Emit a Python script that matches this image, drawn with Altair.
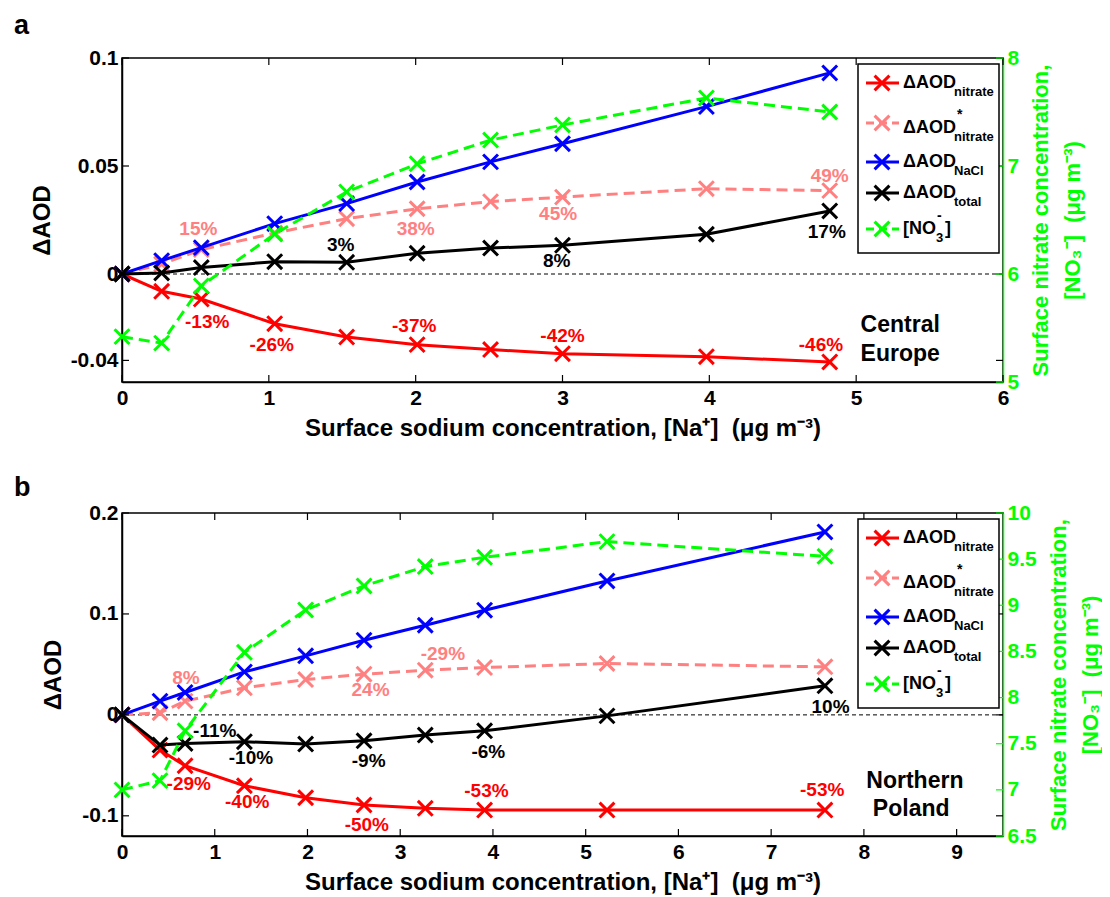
import altair as alt
import pandas as pd

FONT = "Liberation Sans"
RED = "#ff0000"
PINK = "#ff8080"
BLUE = "#0000ff"
BLACK = "#000000"
GREEN = "#00ff00"
XSHAPE = "M-1,-1L1,1M-1,1L1,-1"

# ---------------- Panel a : Central Europe ----------------
a_na = [0, 0.27, 0.54, 1.04, 1.53, 2.01, 2.51, 3.00, 3.98, 4.82]
a_nitrate = [0, -0.0080, -0.0116, -0.0230, -0.0292, -0.0327, -0.0350, -0.0369, -0.0383, -0.0407]
a_nitrate_star = [0, 0.0046, 0.0113, 0.0190, 0.0256, 0.0302, 0.0335, 0.0356, 0.0395, 0.0386]
a_nacl = [0, 0.0062, 0.0122, 0.0233, 0.0326, 0.0426, 0.0519, 0.0603, 0.0775, 0.0931]
a_total = [0, 0.0005, 0.0030, 0.0057, 0.0054, 0.0096, 0.0120, 0.0133, 0.0184, 0.0292]
a_no3 = [5.42, 5.36, 5.89, 6.37, 6.76, 7.02, 7.24, 7.38, 7.63, 7.50]

a_lab_text = ["15%", "38%", "45%", "49%", "3%", "8%", "17%", "-13%", "-26%", "-37%", "-42%", "-46%"]
a_lab_x = [0.52, 2.00, 2.97, 4.82, 1.49, 2.96, 4.80, 0.58, 1.02, 1.99, 3.00, 4.76]
a_lab_y = [0.0208, 0.0208, 0.0278, 0.0452, 0.0133, 0.0059, 0.0194, -0.0224, -0.0327, -0.0242, -0.0285, -0.0327]
a_lab_col = [PINK, PINK, PINK, PINK, BLACK, BLACK, BLACK, RED, RED, RED, RED, RED]
a_region = ["Central", "Europe"]
a_region_x = [5.30, 5.30]
a_region_y = [-0.0238, -0.0372]

# ---------------- Panel b : Northern Poland ----------------
b_na = [0, 0.41, 0.68, 1.32, 1.98, 2.61, 3.27, 3.91, 5.23, 7.58]
b_nitrate = [0, -0.0349, -0.0504, -0.0702, -0.0821, -0.0893, -0.0926, -0.0943, -0.0943, -0.0943]
b_nitrate_star = [0, 0.0021, 0.0136, 0.0268, 0.0350, 0.0403, 0.0443, 0.0469, 0.0509, 0.0476]
b_nacl = [0, 0.0136, 0.0222, 0.0426, 0.0585, 0.0740, 0.0888, 0.1037, 0.1327, 0.1812]
b_total = [0, -0.0299, -0.0283, -0.0266, -0.0289, -0.0257, -0.0200, -0.0158, -0.0010, 0.0288]
b_no3 = [7.00, 7.10, 7.64, 8.49, 8.95, 9.21, 9.42, 9.52, 9.69, 9.53]

b_lab_text = ["8%", "24%", "-29%", "-11%", "-10%", "-9%", "-6%", "10%", "-29%", "-40%", "-50%", "-53%", "-53%"]
b_lab_x = [0.69, 2.68, 3.46, 1.00, 1.39, 2.66, 3.95, 7.64, 0.72, 1.35, 2.64, 3.93, 7.55]
b_lab_y = [0.037, 0.0242, 0.060, -0.0158, -0.0425, -0.0455, -0.0365, 0.008, -0.068, -0.086, -0.109, -0.075, -0.0745]
b_lab_col = [PINK, PINK, PINK, BLACK, BLACK, BLACK, BLACK, BLACK, RED, RED, RED, RED, RED]
b_region = ["Northern", "Poland"]
b_region_x = [8.55, 8.51]
b_region_y = [-0.066, -0.0936]

# axis ticks
a_xticks = [0, 1, 2, 3, 4, 5, 6]
a_yticks = [-0.04, 0, 0.05, 0.1]
a_y2ticks = [5, 6, 7, 8]
b_xticks = [0, 1, 2, 3, 4, 5, 6, 7, 8, 9]
b_yticks = [-0.1, 0, 0.1, 0.2]
b_y2ticks = [6.5, 7, 7.5, 8, 8.5, 9, 9.5, 10]

# legend entries
leg_main = ["ΔAOD", "ΔAOD", "ΔAOD", "ΔAOD", "[NO"]
leg_sub = ["nitrate", "nitrate", "NaCl", "total", "3"]
leg_sup = ["", "*", "", "", "-"]
leg_tail = ["", "", "", "", "]"]
leg_color = [RED, PINK, BLUE, BLACK, GREEN]
leg_dashed = [False, True, False, False, True]

W = 881
NB = "\u00a0"
XTITLE = "Surface sodium concentration, [Na⁺]" + NB + NB + "(μg m⁻³)"
Y2TITLE = ["Surface nitrate concentration,", "[NO₃⁻]" + NB + NB + "(μg m⁻³)"]
DASH = [11, 6]
LW = 3
MSIZE = 220
one = pd.DataFrame({"k": [0]})


def make_panel(tag, H, na, nitrate, nitrate_star, nacl, total, no3, xmax,
               xticks, ydom, yticks, ydom2, yticks2,
               lab_text, lab_x, lab_y, lab_col, region, region_x, region_y):
    xs = alt.Scale(domain=[0, xmax], nice=False, zero=False)
    ys = alt.Scale(domain=ydom, nice=False, zero=False)
    ys2 = alt.Scale(domain=ydom2, nice=False, zero=False)

    common_axis = dict(ticks=False, grid=False, labelFont=FONT, titleFont=FONT,
                       labelFontWeight="bold", titleFontWeight="bold",
                       labelFontSize=21, labelOverlap=False, labelFlush=False,
                       domainWidth=1.5, labelExpr="datum.value + ''")
    xaxis = alt.Axis(values=xticks, title=XTITLE, labelPadding=5, titlePadding=8,
                     titleFontSize=24, labelColor=BLACK, titleColor=BLACK,
                     domainColor=BLACK, orient="bottom", **common_axis)
    yaxis = alt.Axis(values=yticks, title="ΔAOD", labelPadding=4, titlePadding=16,
                     titleFontSize=24, labelColor=BLACK, titleColor=BLACK,
                     domainColor=BLACK, orient="left", **common_axis)
    y2axis = alt.Axis(values=yticks2, title=Y2TITLE, labelPadding=4, titlePadding=2,
                      titleFontSize=22, titleLineHeight=32, labelColor=GREEN,
                      titleColor=GREEN, domainColor=GREEN, orient="right",
                      titleAngle=270, titleBaseline="bottom", **common_axis)

    df = pd.DataFrame({"na": na, "nitrate": nitrate, "nitrate_star": nitrate_star,
                       "nacl": nacl, "total": total, "no3": no3})

    # only the axis-carrying layer passes an axis; others leave it unspecified
    def X(f, axis=alt.Undefined):
        return alt.X(f, type="quantitative", scale=xs, axis=axis)

    def Y(f, axis=alt.Undefined):
        return alt.Y(f, type="quantitative", scale=ys, axis=axis)

    def Y2(f, axis=alt.Undefined):
        return alt.Y(f, type="quantitative", scale=ys2, axis=axis)

    base = alt.Chart(df)
    left_layers = []
    # zero dashed line (carries the left axis)
    left_layers.append(
        alt.Chart(pd.DataFrame({"z": [0]})).mark_rule(color=BLACK, strokeWidth=1, strokeDash=[4, 3])
        .encode(y=Y("z", yaxis))
    )
    series = [("nitrate", RED, None), ("nitrate_star", PINK, DASH),
              ("nacl", BLUE, None), ("total", BLACK, None)]
    for i, (f, c, d) in enumerate(series):
        lkw = dict(color=c, strokeWidth=LW)
        if d:
            lkw["strokeDash"] = d
        if i == 0:
            enc = dict(x=X("na", xaxis), y=Y(f))
        else:
            enc = dict(x=X("na"), y=Y(f))
        left_layers.append(base.mark_line(**lkw).encode(**enc))
        left_layers.append(base.mark_point(shape=XSHAPE, filled=False, color=c, size=MSIZE,
                                           strokeWidth=LW, opacity=1).encode(x=X("na"), y=Y(f)))

    # inward ticks
    xt = pd.DataFrame({"t": xticks})
    yt = pd.DataFrame({"t": yticks})
    tk = dict(color=BLACK, strokeWidth=1.2)
    left_layers.append(alt.Chart(xt).mark_rule(**tk).encode(x=X("t"), y=alt.value(H), y2=alt.value(H - 7)))
    left_layers.append(alt.Chart(xt).mark_rule(**tk).encode(x=X("t"), y=alt.value(0), y2=alt.value(7)))
    left_layers.append(alt.Chart(yt).mark_rule(**tk).encode(y=Y("t"), x=alt.value(0), x2=alt.value(7)))
    left_layers.append(alt.Chart(yt).mark_rule(**tk).encode(y=Y("t"), x=alt.value(W - 7), x2=alt.value(W)))

    # percentage labels
    labs = pd.DataFrame({"text": lab_text, "x": lab_x, "y": lab_y, "c": lab_col})
    left_layers.append(
        alt.Chart(labs).mark_text(font=FONT, fontSize=19, fontWeight="bold", align="center", baseline="middle")
        .encode(x=X("x"), y=Y("y"), text="text:N", color=alt.Color("c:N", scale=None))
    )
    reg = pd.DataFrame({"text": region, "x": region_x, "y": region_y})
    left_layers.append(
        alt.Chart(reg).mark_text(font=FONT, fontSize=23, fontWeight="bold", align="center",
                                 baseline="middle", color=BLACK)
        .encode(x=X("x"), y=Y("y"), text="text:N")
    )
    # panel tag
    left_layers.append(
        alt.Chart(one).mark_text(text=tag, font=FONT, fontSize=27, fontWeight="bold", align="left",
                                 baseline="alphabetic", color=BLACK)
        .encode(x=alt.value(-108), y=alt.value(-24 if tag == "a" else -17))
    )
    left = alt.layer(*left_layers)

    # right axis (nitrate)
    y2t = pd.DataFrame({"t": yticks2})
    right = alt.layer(
        base.mark_line(color=GREEN, strokeWidth=LW, strokeDash=DASH)
        .encode(x=X("na"), y=Y2("no3", y2axis)),
        base.mark_point(shape=XSHAPE, filled=False, color=GREEN, size=MSIZE, strokeWidth=LW, opacity=1)
        .encode(x=X("na"), y=Y2("no3")),
        alt.Chart(y2t).mark_rule(color=GREEN, strokeWidth=1.2)
        .encode(y=Y2("t"), x=alt.value(W - 7), x2=alt.value(W)),
    )

    # legend (drawn in pixel space of the panel)
    row_sample = [25, 65, 104, 135, 171]
    row_text = [25, 70, 104, 135, 171]
    leg_layers = [
        alt.Chart(one).mark_rect(fill="white", stroke=BLACK, strokeWidth=1.5)
        .encode(x=alt.value(736), x2=alt.value(877), y=alt.value(6), y2=alt.value(195))
    ]
    for i in range(5):
        c = leg_color[i]
        rkw = dict(color=c, strokeWidth=LW)
        if leg_dashed[i]:
            rkw["strokeDash"] = [8, 5]
        leg_layers.append(alt.Chart(one).mark_rule(**rkw).encode(
            x=alt.value(744), x2=alt.value(777), y=alt.value(row_sample[i])))
        leg_layers.append(alt.Chart(one).mark_point(shape=XSHAPE, filled=False, color=c, size=MSIZE,
                                                    strokeWidth=LW, opacity=1)
                          .encode(x=alt.value(760), y=alt.value(row_sample[i])))
        tkw = dict(font=FONT, fontWeight="bold", align="left", baseline="middle", color=BLACK)
        leg_layers.append(alt.Chart(one).mark_text(text=leg_main[i], fontSize=18, **tkw)
                          .encode(x=alt.value(781), y=alt.value(row_text[i])))
        sub_x = 832 if i < 4 else 814
        leg_layers.append(alt.Chart(one).mark_text(text=leg_sub[i], fontSize=13, **tkw)
                          .encode(x=alt.value(sub_x), y=alt.value(row_text[i] + 9)))
        if leg_sup[i]:
            sup_x = 835 if i < 4 else 815
            leg_layers.append(alt.Chart(one).mark_text(text=leg_sup[i], fontSize=14, **tkw)
                              .encode(x=alt.value(sup_x), y=alt.value(row_text[i] - 13)))
        if leg_tail[i]:
            leg_layers.append(alt.Chart(one).mark_text(text=leg_tail[i], fontSize=18, **tkw)
                              .encode(x=alt.value(823), y=alt.value(row_text[i])))
    legend = alt.layer(*leg_layers)

    return alt.layer(left, right, legend).resolve_scale(y="independent").properties(width=W, height=H)


panel_a = make_panel("a", 324, a_na, a_nitrate, a_nitrate_star, a_nacl, a_total, a_no3, 6.0,
                     a_xticks, [-0.05, 0.1], a_yticks, [5, 8], a_y2ticks,
                     a_lab_text, a_lab_x, a_lab_y, a_lab_col, a_region, a_region_x, a_region_y)
panel_b = make_panel("b", 323, b_na, b_nitrate, b_nitrate_star, b_nacl, b_total, b_no3, 9.5,
                     b_xticks, [-0.12, 0.2], b_yticks, [6.5, 10], b_y2ticks,
                     b_lab_text, b_lab_x, b_lab_y, b_lab_col, b_region, b_region_x, b_region_y)

chart = (
    alt.vconcat(panel_a, panel_b, spacing=32)
    .properties(padding={"left": 5, "top": 3, "right": 0, "bottom": 0}, background="white")
    .configure_view(stroke=BLACK, strokeWidth=1.5)
)

chart.save("out.html", embed_options={"renderer": "svg", "actions": False})
